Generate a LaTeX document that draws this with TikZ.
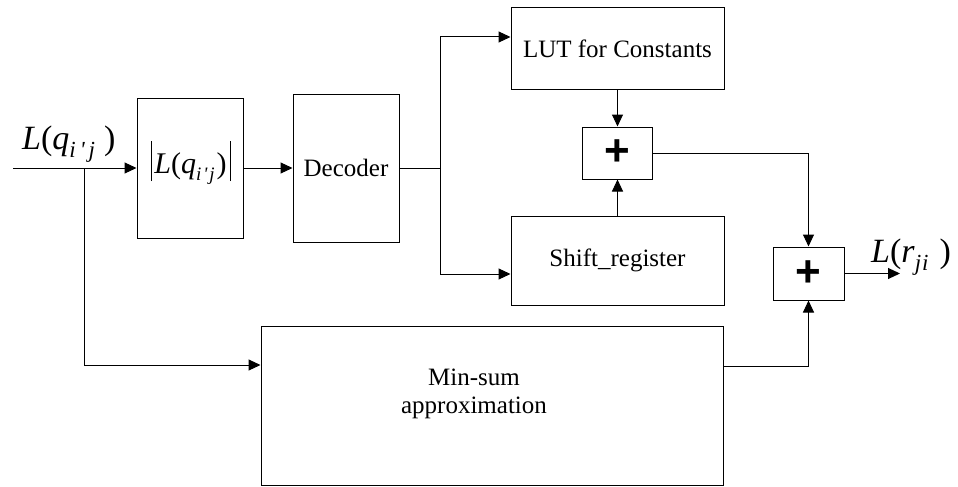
\documentclass[tikz,border=0pt]{standalone}
\usepackage{fontspec}
\setmainfont{Liberation Serif}
\newfontfamily\plusfont{Liberation Sans}
\usetikzlibrary{arrows.meta,calc}
% italic subscripts for the message labels
\newcommand{\BigSub}[1]{\raisebox{-0.24em}{\fontsize{23}{25}\selectfont\itshape #1}}
\newcommand{\SmallSub}[1]{\raisebox{-0.24em}{\fontsize{19}{21}\selectfont\itshape #1}}
\newcommand{\Tick}{\textquotesingle}
\begin{document}
\begin{tikzpicture}[x=1pt,y=-1pt,
  blk/.style={draw,line width=1pt,inner sep=0pt,font=\fontsize{25}{28}\selectfont},
  addbox/.style={draw,line width=1pt,inner sep=0pt,minimum width=70pt,minimum height=52pt,
    font=\plusfont\bfseries\fontsize{44}{44}\selectfont},
  wire/.style={line width=1pt},
  arr/.style={wire,-{Triangle[length=12pt,width=11pt]}},
  biglab/.style={anchor=base west,inner sep=0pt,font=\fontsize{34}{36}\selectfont}]
\useasboundingbox (0,0) rectangle (958,487);

% processing blocks
\node[blk,minimum width=106pt,minimum height=140pt] (absq) at (190,168) {};
\node[anchor=base,inner sep=0pt,font=\fontsize{30}{32}\selectfont] (absqtxt) at (191,173)
  {\rule[-8pt]{1pt}{40pt}\kern2pt\textit{L}(\textit{q}\SmallSub{i\kern2pt\Tick\kern2pt j}\kern2pt)\kern3pt\rule[-8pt]{1pt}{40pt}};
\node[blk,minimum width=106pt,minimum height=148pt] (dec) at (346,168) {Decoder};
\node[blk,minimum width=213pt,minimum height=81pt] (lut) at (617.5,48.5) {LUT for Constants};
\node[blk,minimum width=213pt,minimum height=89pt] (sreg) at (617.5,260.5) {Shift\_register};
\node[blk,minimum width=462pt,minimum height=159pt] (ms) at (492,405.5) {};
\node[inner sep=0pt,align=center,font=\fontsize{25}{28}\selectfont] (mstxt) at (474,394)
  {Min-sum\\approximation};

% adders
\node[addbox] (add1) at (617.5,153) {+};
\node[addbox,minimum width=71pt,minimum height=53pt] (add2) at (808.5,273.5) {+};

% input / output labels
\node[biglab] (lq) at (22,149)
  {\textit{L}(\textit{q}\BigSub{i\kern4pt\Tick\kern4pt j}\kern9pt)};
\node[biglab] (lr) at (871,262)
  {\textit{L}(\textit{r}\BigSub{j\kern1pt i}\kern11pt)};

% connection points
\coordinate (in) at (13,168);
\coordinate (br) at (84,168);
\coordinate (split) at (440,168);
\coordinate (out) at (900,273.5);

% connectors
\draw[arr] (in) -- (absq.west);
\draw[arr] (br) |- ([yshift=40.5pt]ms.west);
\draw[arr] (absq.east) -- (dec.west);
\draw[wire] (dec.east) -- (split);
\draw[arr] (split) |- ([yshift=11.5pt]lut.west);
\draw[arr] (split) |- ([yshift=-13.5pt]sreg.west);
\draw[arr] (lut.south) -- (add1.north);
\draw[arr] (sreg.north) -- (add1.south);
\draw[arr] (add1.east) -| (add2.north);
\draw[arr] ([yshift=39.5pt]ms.east) -| (add2.south);
\draw[arr] (add2.east) -- (out);
\end{tikzpicture}
\end{document}
